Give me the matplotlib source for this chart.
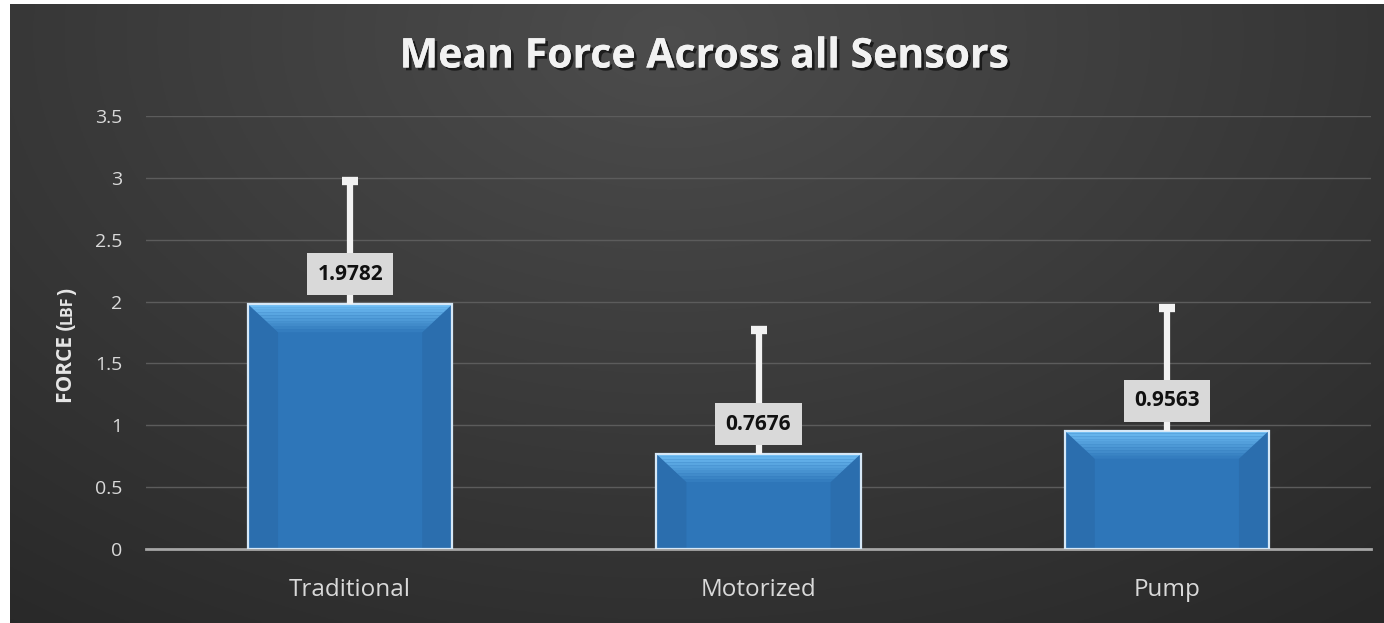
import numpy as np
import matplotlib
matplotlib.use("Agg")
from matplotlib import pyplot as plt
from matplotlib.patches import Polygon, Rectangle
import matplotlib.patheffects as pe

categories = ["Traditional", "Motorized", "Pump"]
mean_force = [1.9782, 0.7676, 0.9563]
err_upper = [1.00, 1.00, 0.99]
yticks = [0, 0.5, 1, 1.5, 2, 2.5, 3, 3.5]
ytick_labels = ["0", "0.5", "1", "1.5", "2", "2.5", "3", "3.5"]

W, H = 1384, 623
fig = plt.figure(figsize=(W / 100, H / 100), dpi=100)
fig.patch.set_facecolor("white")

# dark background, lighter near top centre
bg = fig.add_axes([10 / W, 0, (W - 10) / W, (H - 4) / H])
bg.set_axis_off()
yy, xx = np.mgrid[0:1:300j, 0:1:600j]
r = np.sqrt(((xx - 0.48) / 0.75) ** 2 + ((yy - 0.05) / 1.1) ** 2)
shade = np.clip(0.30 - 0.13 * r, 0.16, 0.30)
img = np.dstack([shade, shade, shade])
bg.imshow(img, aspect="auto", extent=[0, 1, 0, 1], origin="upper")

# plot area in pixels
left, right = 146, 1371
top, bottom = 116, 549
ax = fig.add_axes([left / W, (H - bottom) / H, (right - left) / W, (bottom - top) / H])
ax.set_facecolor("none")
x = np.arange(len(categories))
ax.set_xlim(-0.5, len(categories) - 0.5)
ax.set_ylim(0, 3.5)

bars = ax.bar(x, mean_force, width=0.5, color="#2e76b9", edgecolor="none", zorder=3)

# soft bevel on each bar
px_x = len(categories) / (right - left)
px_y = 3.5 / (bottom - top)
bx, by = 30 * px_x, 28 * px_y
for b in bars:
    x0, w, h = b.get_x(), b.get_width(), b.get_height()
    x1 = x0 + w
    # side strips a touch darker
    ax.add_patch(Polygon([[x0, 0], [x0, h], [x0 + bx, h - by], [x0 + bx, 0]],
                         closed=True, facecolor="#2b6eae", edgecolor="none", zorder=3.1))
    ax.add_patch(Polygon([[x1, 0], [x1, h], [x1 - bx, h - by], [x1 - bx, 0]],
                         closed=True, facecolor="#2b6eae", edgecolor="none", zorder=3.1))
    # top band, light gradient
    steps = 10
    for k in range(steps):
        f0, f1 = k / steps, (k + 1) / steps
        c = np.array([0x6c, 0xbb, 0xf2]) * (1 - f0) + np.array([0x2e, 0x76, 0xb9]) * f0
        ax.add_patch(Polygon([[x0 + bx * f0, h - by * f0], [x1 - bx * f0, h - by * f0],
                              [x1 - bx * f1, h - by * f1], [x0 + bx * f1, h - by * f1]],
                             closed=True, facecolor=c / 255, edgecolor="none", zorder=3.2))
    ax.add_patch(Rectangle((x0, 0), w, h, facecolor="none", edgecolor="#d6e8f7",
                           linewidth=1.6, zorder=3.5))

# upper error bars only
ax.vlines(x, mean_force, np.add(mean_force, err_upper), color="#f2f2f2",
          linewidth=4.5, zorder=4)
ax.plot(x, np.add(mean_force, err_upper), linestyle="none", marker="_",
        markersize=11, markeredgewidth=6, color="#f2f2f2", zorder=4)

for xi, v in zip(x, mean_force):
    ax.annotate(f"{v:.4f}", (xi, v), xytext=(0, 30), textcoords="offset pixels",
                ha="center", va="center", fontsize=15, fontweight="bold",
                family="Open Sans", color="#111111", zorder=6,
                bbox=dict(boxstyle="square,pad=0.5", facecolor="#d9d9d9",
                          edgecolor="none"))

ax.set_yticks(yticks)
ax.set_yticklabels(ytick_labels)
ax.set_xticks(x)
ax.set_xticklabels(categories)
ax.grid(axis="y", color="#5c5c5c", linewidth=1, zorder=0)
ax.set_axisbelow(True)
for s in ["top", "right", "left"]:
    ax.spines[s].set_visible(False)
ax.spines["bottom"].set_color("#a6a6a6")
ax.spines["bottom"].set_linewidth(2)
ax.spines["bottom"].set_zorder(2)
ax.tick_params(axis="both", length=0, colors="#d9d9d9")
ax.tick_params(axis="y", labelsize=14, pad=17)
ax.tick_params(axis="x", labelsize=17.5, pad=21)
for lab in ax.get_xticklabels() + ax.get_yticklabels():
    lab.set_family("Open Sans")

# y label: FORCE (LBF) with small-caps LBF, stacked bottom to top
renderer = fig.canvas.get_renderer()
ypos = 1 - 403 / H
for part, size in [("FORCE (", 15), ("LBF", 11.5), (")", 15)]:
    t = fig.text(72 / W, ypos, part, rotation=90, rotation_mode="anchor",
                 ha="left", va="baseline", fontsize=size, fontweight="bold",
                 family="Open Sans", color="#e6e6e6")
    ext = t.get_window_extent(renderer)
    ypos = ext.y1 / H

fig.text(705 / W, 1 - 57 / H, "Mean Force Across all Sensors", ha="center", va="center",
         fontsize=29.5, fontweight="bold", family="Open Sans", color="#f2f2f2",
         path_effects=[pe.withSimplePatchShadow(offset=(2, -2), shadow_rgbFace="black", alpha=0.6),
                       pe.Normal()])

fig.savefig("out.png", dpi=100, facecolor=fig.get_facecolor())
